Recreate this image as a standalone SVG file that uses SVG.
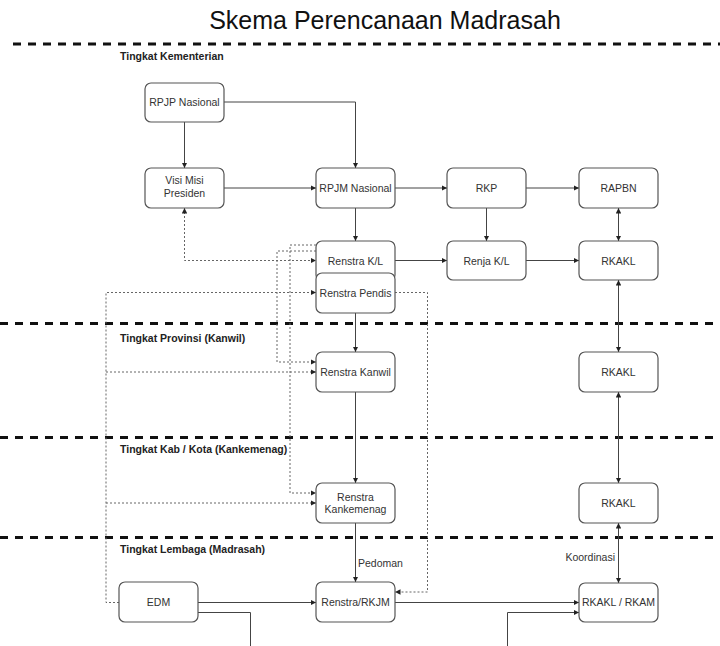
<svg xmlns="http://www.w3.org/2000/svg" width="720" height="646" viewBox="0 0 720 646">
<defs>
<marker id="arr" viewBox="0 0 6 6" refX="6" refY="3" markerWidth="5.5" markerHeight="5.5" markerUnits="userSpaceOnUse" orient="auto-start-reverse">
<path d="M0,0 L6,3 L0,6 z" fill="#222"/>
</marker>
</defs>
<style>
.bg{fill:#ffffff}
.title{font-family:"Liberation Sans",Arial,sans-serif;font-size:25px;fill:#111;text-anchor:middle}
.sep{stroke:#111;stroke-width:3;stroke-dasharray:8 7;fill:none}
.lvl{font-family:"Liberation Sans",Arial,sans-serif;font-size:10.5px;font-weight:bold;fill:#222}
.box{fill:#fff;stroke:#555;stroke-width:1.2}
.lbl{font-family:"Liberation Sans",Arial,sans-serif;font-size:10.5px;fill:#333;text-anchor:middle}
.edge{fill:none;stroke:#444;stroke-width:1}
.dot{fill:none;stroke:#666;stroke-width:1;stroke-dasharray:2 2}
.elbl{font-family:"Liberation Sans",Arial,sans-serif;font-size:10.5px;fill:#333}
</style>
<rect class="bg" x="0" y="0" width="720" height="646"/>
<text class="title" x="385" y="29">Skema Perencanaan Madrasah</text>

<g id="separators">
<line class="sep" x1="13" y1="44" x2="720" y2="44"/>
<line class="sep" x1="0" y1="323.5" x2="720" y2="323.5"/>
<line class="sep" x1="0" y1="437.5" x2="720" y2="437.5"/>
<line class="sep" x1="0" y1="537.5" x2="720" y2="537.5"/>
<text class="lvl" x="120" y="60">Tingkat Kementerian</text>
<text class="lvl" x="120" y="342">Tingkat Provinsi (Kanwil)</text>
<text class="lvl" x="120" y="453">Tingkat Kab / Kota (Kankemenag)</text>
<text class="lvl" x="120" y="553">Tingkat Lembaga (Madrasah)</text>
</g>

<g id="connectors">
<path class="edge" d="M184.5,122 V168" marker-end="url(#arr)"/>
<path class="edge" d="M224,102 H355.5 V168" marker-end="url(#arr)"/>
<path class="edge" d="M224,188 H316" marker-end="url(#arr)"/>
<path class="edge" d="M395,188 H447" marker-end="url(#arr)"/>
<path class="edge" d="M526,188 H579" marker-end="url(#arr)"/>
<path class="edge" d="M486.5,208 V241" marker-end="url(#arr)"/>
<path class="edge" d="M355.5,208 V241" marker-end="url(#arr)"/>
<path class="edge" d="M395,260.5 H447" marker-end="url(#arr)"/>
<path class="edge" d="M526,260.5 H579" marker-end="url(#arr)"/>
<path class="edge" d="M618.5,208 V241" marker-start="url(#arr)" marker-end="url(#arr)"/>
<path class="edge" d="M618.5,280 V352" marker-start="url(#arr)" marker-end="url(#arr)"/>
<path class="edge" d="M618.5,392 V483" marker-start="url(#arr)" marker-end="url(#arr)"/>
<path class="edge" d="M618.5,523 V583" marker-start="url(#arr)" marker-end="url(#arr)"/>
<path class="edge" d="M355.5,313 V352" marker-end="url(#arr)"/>
<path class="edge" d="M355.5,392 V483" marker-end="url(#arr)"/>
<path class="edge" d="M355.5,523 V582" marker-end="url(#arr)"/>
<path class="edge" d="M198,602.5 H316" marker-end="url(#arr)"/>
<path class="edge" d="M395,602.5 H579" marker-end="url(#arr)"/>
<path class="edge" d="M198,612.5 H250.5 V680 H507.5 V612.5 H579" marker-end="url(#arr)"/>
<path class="dot" d="M184.5,208 V260.5 H316" marker-start="url(#arr)" marker-end="url(#arr)"/>
<path class="dot" d="M316,251 H277 V362 H316" marker-end="url(#arr)"/>
<path class="dot" d="M316,245 H290 V493 H316" marker-end="url(#arr)"/>
<path class="dot" d="M119,602.5 H106 V292.5 H316" marker-end="url(#arr)"/>
<path class="dot" d="M106,372 H316" marker-end="url(#arr)"/>
<path class="dot" d="M106,503 H316" marker-end="url(#arr)"/>
<path class="dot" d="M395,292.5 H427.5 V592 H395" marker-end="url(#arr)"/>
<text class="elbl" x="358" y="567">Pedoman</text>
<text class="elbl" x="615" y="561" text-anchor="end">Koordinasi</text>
</g>

<g id="rpjp"><rect class="box" x="145" y="83" width="79" height="39" rx="6"/><text class="lbl" x="184.5" y="106">RPJP Nasional</text></g>
<g id="visimisi"><rect class="box" x="145" y="168" width="79" height="40" rx="6"/><text class="lbl" x="184.5" y="184">Visi Misi</text><text class="lbl" x="184.5" y="197">Presiden</text></g>
<g id="rpjm"><rect class="box" x="316" y="168" width="79" height="40" rx="6"/><text class="lbl" x="355.5" y="191.5">RPJM Nasional</text></g>
<g id="rkp"><rect class="box" x="447" y="168" width="79" height="40" rx="6"/><text class="lbl" x="486.5" y="191.5">RKP</text></g>
<g id="rapbn"><rect class="box" x="579" y="168" width="79" height="40" rx="6"/><text class="lbl" x="618.5" y="191.5">RAPBN</text></g>
<g id="renstrakl"><rect class="box" x="316" y="241" width="79" height="40" rx="6"/><text class="lbl" x="355.5" y="264.5">Renstra K/L</text></g>
<g id="renjakl"><rect class="box" x="447" y="241" width="79" height="39" rx="6"/><text class="lbl" x="486.5" y="264.5">Renja K/L</text></g>
<g id="rkakl1"><rect class="box" x="579" y="241" width="79" height="39" rx="6"/><text class="lbl" x="618.5" y="264.5">RKAKL</text></g>
<g id="renstrapendis"><rect class="box" x="316" y="273" width="79" height="40" rx="6"/><text class="lbl" x="355.5" y="296.5">Renstra Pendis</text></g>
<g id="renstrakanwil"><rect class="box" x="316" y="352" width="79" height="40" rx="6"/><text class="lbl" x="355.5" y="375.5">Renstra Kanwil</text></g>
<g id="rkakl2"><rect class="box" x="579" y="352" width="79" height="40" rx="6"/><text class="lbl" x="618.5" y="375.5">RKAKL</text></g>
<g id="renstrakankemenag"><rect class="box" x="316" y="483" width="79" height="40" rx="6"/><text class="lbl" x="355.5" y="500.5">Renstra</text><text class="lbl" x="355.5" y="513">Kankemenag</text></g>
<g id="rkakl3"><rect class="box" x="579" y="483" width="79" height="40" rx="6"/><text class="lbl" x="618.5" y="506.5">RKAKL</text></g>
<g id="edm"><rect class="box" x="119" y="582" width="79" height="40" rx="6"/><text class="lbl" x="158.5" y="606">EDM</text></g>
<g id="renstrarkjm"><rect class="box" x="316" y="582" width="79" height="40" rx="6"/><text class="lbl" x="355.5" y="606">Renstra/RKJM</text></g>
<g id="rkam"><rect class="box" x="579" y="583" width="79" height="39" rx="6"/><text class="lbl" x="618.5" y="606">RKAKL / RKAM</text></g>
</svg>
